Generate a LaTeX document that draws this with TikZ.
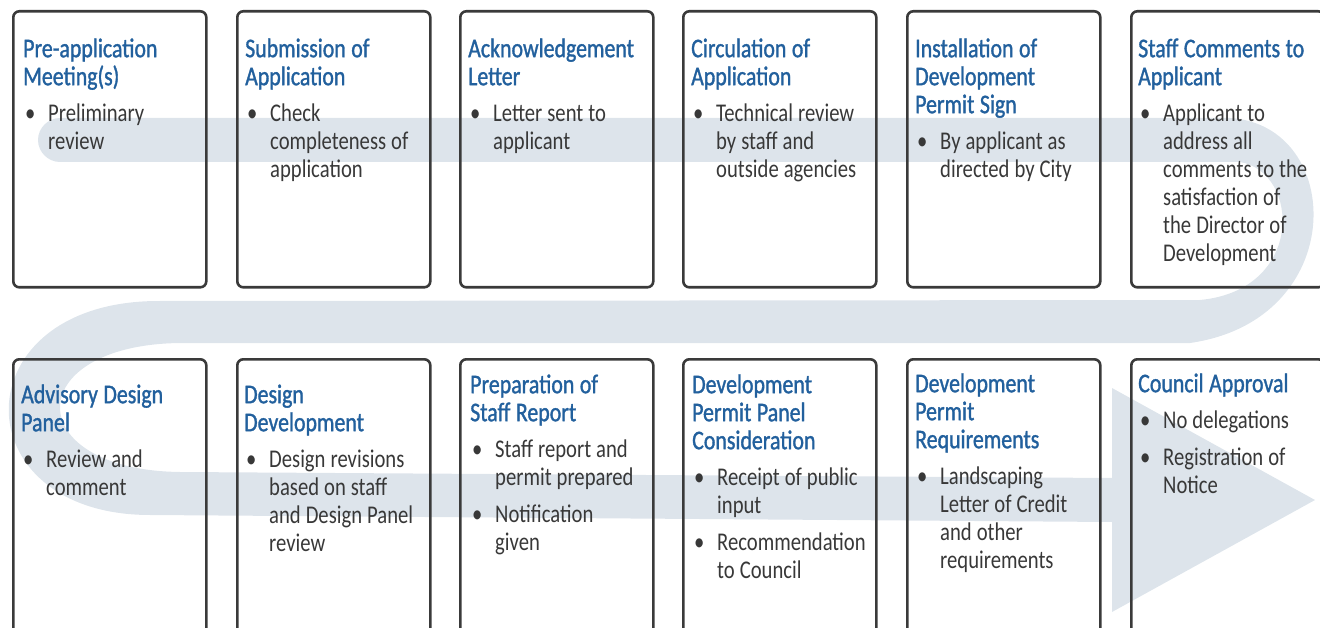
\documentclass[tikz,border=0pt]{standalone}
\usepackage{fontspec}
\newfontfamily\bodyf{Carlito}[FakeStretch=0.81]
\newfontfamily\titlef{Carlito}[FakeStretch=0.81, FakeBold=1.2]
\definecolor{bandc}{HTML}{DDE4EB}
\definecolor{tblue}{HTML}{22609D}
\definecolor{bodyc}{HTML}{383838}
\definecolor{boxc}{HTML}{3A3A3A}
\newcommand\ttl[1]{{\titlef\fontsize{27}{28}\selectfont\spaceskip=5.5pt\relax\color{tblue}#1}}
\newcommand\bul[1]{\makebox[25pt][l]{\hspace{2pt}\textbullet}#1}
\newcommand\ind{\hspace*{25pt}}
\newcommand\fl{\spaceskip=5pt\relax\rule{0pt}{24pt}}
\tikzset{
  stagebox/.style={draw=boxc, line width=2.6pt, rounded corners=6pt, anchor=north west,
    minimum width=193, inner sep=0pt},
  txt/.style={anchor=north west, inner sep=0pt, text width=250pt, align=left,
    font=\bodyf\fontsize{25.5}{28}\selectfont, text=bodyc},
}
\begin{document}
\begin{tikzpicture}[x=1pt,y=-1pt]
\path[use as bounding box, clip] (0,0) rectangle (1320,628);
% flow band
\fill[bandc] (60,118) -- (1230,118) .. controls (1345,125) and (1350,320) .. (1190,343)
  -- (180,343) .. controls (20,345) and (20,470) .. (180,472)
  -- (1112,478) -- (1112,388) -- (1315,500) -- (1112,612) -- (1112,522)
  -- (150,515) .. controls (-40,515) and (-40,300) .. (160,301)
  -- (1200,300) .. controls (1305,290) and (1300,172) .. (1240,162)
  -- (60,162) .. controls (48,162) and (38,152) .. (38,140)
  .. controls (38,128) and (48,118) .. (60,118) -- cycle;
% boxes
\foreach \i/\x in {1/12,2/236,3/459,4/682,5/906,6/1130}{
  \node[stagebox, minimum height=276] (b\i) at (\x,10) {};
}
\foreach \i/\x in {7/12,8/236,9/459,10/682,11/906,12/1130}{
  \node[stagebox, minimum height=300] (b\i) at (\x,358) {};
}
% texts, top row
\node[txt] (t1) at (23,33) {\fl\ttl{Pre-application}\\ \ttl{Meeting(s)}\\[8pt]
  \bul{Preliminary}\\ \ind review};
\node[txt] (t2) at (245,33) {\fl\ttl{Submission of}\\ \ttl{Application}\\[8pt]
  \bul{Check}\\ \ind completeness of\\ \ind application};
\node[txt] (t3) at (468,33) {\fl\ttl{Acknowledgement}\\ \ttl{Letter}\\[8pt]
  \bul{Letter sent to}\\ \ind applicant};
\node[txt] (t4) at (691,33) {\fl\ttl{Circulation of}\\ \ttl{Application}\\[8pt]
  \bul{Technical review}\\ \ind by staff and\\ \ind outside agencies};
\node[txt] (t5) at (915,33) {\fl\ttl{Installation of}\\ \ttl{Development}\\ \ttl{Permit Sign}\\[8pt]
  \bul{By applicant as}\\ \ind directed by City};
\node[txt] (t6) at (1138,33) {\fl\ttl{Staff Comments to}\\ \ttl{Applicant}\\[8pt]
  \bul{Applicant to}\\ \ind address all\\ \ind comments to the\\ \ind satisfaction of\\
  \ind the Director of\\ \ind Development};
% texts, bottom row
\node[txt] (t7) at (21,379) {\fl\ttl{Advisory Design}\\ \ttl{Panel}\\[8pt]
  \bul{Review and}\\ \ind comment};
\node[txt] (t8) at (244,379) {\fl\ttl{Design}\\ \ttl{Development}\\[8pt]
  \bul{Design revisions}\\ \ind based on staff\\ \ind and Design Panel\\ \ind review};
\node[txt] (t9) at (470,369) {\fl\ttl{Preparation of}\\ \ttl{Staff Report}\\[8pt]
  \bul{Staff report and}\\ \ind permit prepared\\[9pt]
  \bul{Notification}\\ \ind given};
\node[txt] (t10) at (692,369) {\fl\ttl{Development}\\ \ttl{Permit Panel}\\ \ttl{Consideration}\\[8pt]
  \bul{Receipt of public}\\ \ind input\\[9pt]
  \bul{Recommendation}\\ \ind to Council};
\node[txt] (t11) at (915,368) {\fl\ttl{Development}\\ \ttl{Permit}\\ \ttl{Requirements}\\[8pt]
  \bul{Landscaping}\\ \ind Letter of Credit\\ \ind and other\\ \ind requirements};
\node[txt] (t12) at (1138,368) {\fl\ttl{Council Approval}\\[8pt]
  \bul{No delegations}\\[9pt]
  \bul{Registration of}\\ \ind Notice};
\end{tikzpicture}
\end{document}
